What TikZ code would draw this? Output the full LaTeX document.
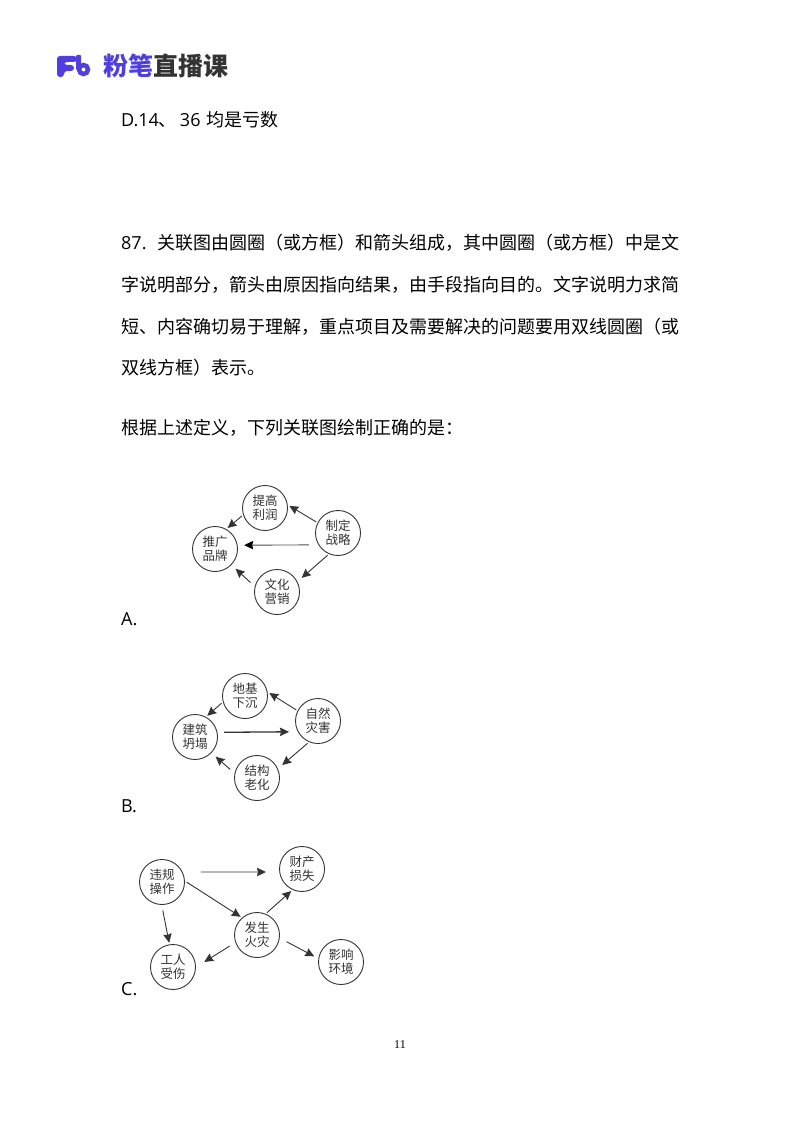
\documentclass[tikz,border=0pt]{standalone}
\usepackage{fontspec}
\setmainfont{Open Sans}
\newfontfamily\cjk{Noto Sans CJK SC}
\usetikzlibrary{arrows.meta}
\definecolor{fbblue}{HTML}{4F3FE0}
\definecolor{fbdark}{HTML}{333333}
\definecolor{linegray}{HTML}{333333}
\def\BodySize{\fontsize{18}{22}\selectfont}
\def\LeftX{121}
\tikzset{
  bubble/.style={draw=linegray, line width=0.9pt, circle, minimum size=45pt, inner sep=0pt, outer sep=2pt,
    align=center, text=fbdark, font=\fontsize{12.5}{14}\selectfont\cjk},
  body/.style={anchor=base west, inner sep=0pt, text=black, font=\BodySize},
  link/.style={->, draw=linegray, line width=0.9pt},
}
\begin{document}
\begin{tikzpicture}[x=1pt,y=-1pt,>={Stealth[length=9pt,width=8.5pt,inset=1pt]}]
  \useasboundingbox (0,0) rectangle (800,1132);
  % logo
  \fill [fbblue, rounded corners=3pt] (57,77) -- (57,56) -- (77,56) -- (77,62) -- (64,62) -- (64,65) -- (74,65) -- (74,71) -- (64,71) -- (64,77) -- cycle;
  \fill [fbblue, rounded corners=1pt] (76,55) rectangle (81,70);
  \draw [fbblue, line width=4.5pt] (83.5,69.5) circle (4.5);
  \node (brand) [anchor=base west, inner sep=0pt, text=fbblue, font=\fontsize{25}{25}\selectfont\cjk\bfseries] at (103,76) {粉笔};
  \node (brand2) [anchor=base west, inner sep=0pt, text=fbdark, font=\fontsize{25}{25}\selectfont\cjk\bfseries] at (brand.base east) {直播课};
  % text
  \node (optd) [body] at (\LeftX,126) {D.14{\cjk 、}\hspace{3pt}36\hspace{1pt} {\cjk 均是亏数}};
  \node (line1) [body] at (\LeftX,249) {87.\hspace{5pt} {\cjk 关联图由圆圈（或方框）和箭头组成，其中圆圈（或方框）中是文}};
  \node (line2) [body] at (\LeftX,291) {\cjk 字说明部分，箭头由原因指向结果，由手段指向目的。文字说明力求简};
  \node (line3) [body] at (\LeftX,333) {\cjk 短、内容确切易于理解，重点项目及需要解决的问题要用双线圆圈（或};
  \node (line4) [body] at (\LeftX,374) {\cjk 双线方框）表示。};
  \node (line5) [body] at (\LeftX,434) {\cjk 根据上述定义，下列关联图绘制正确的是：};
  \node (labA) [body] at (\LeftX,625) {A.};
  \node (labB) [body] at (\LeftX,812) {B.};
  \node (labC) [body] at (\LeftX,995) {C.};
  \node (page) [inner sep=0pt, text=black, font=\fontsize{12}{12}\selectfont\rmfamily] at (400,1045) {\fontspec{Liberation Serif}11};
  % diagram A
  \node (profit) [bubble] at (265,508) {提高\\利润};
  \node (brandup) [bubble] at (215,549) {推广\\品牌};
  \node (plan) [bubble] at (338,533) {制定\\战略};
  \node (culture) [bubble] at (277,592) {文化\\营销};
  \draw [link] (plan.153) -- (profit.5);
  \draw [link] (profit.199) -- (brandup.59);
  \draw [link, draw=black!70, -{Stealth[length=9pt,width=8.5pt,inset=1pt,black]}, shorten <=7.6pt, shorten >=5pt] (plan.209.3) -- (brandup.9.4);
  \draw [link, shorten >=4pt] (plan.245) -- (culture.28);
  \draw [link, shorten <=4pt, shorten >=4pt] (culture.164) -- (brandup.-44);
  % diagram B
  \node (sink) [bubble] at (245,696) {地基\\下沉};
  \node (collapse) [bubble] at (195,737) {建筑\\坍塌};
  \node (disaster) [bubble] at (318,721) {自然\\灾害};
  \node (aging) [bubble] at (257,778) {结构\\老化};
  \draw [link] (disaster.153) -- (sink.7);
  \draw [link] (sink.197) -- (collapse.60);
  \draw [link, line width=1.3pt, shorten <=5pt, shorten >=7pt] (collapse.11.8) -- (disaster.206.7);
  \draw [link, shorten >=4pt] (disaster.245) -- (aging.25);
  \draw [link, shorten <=4pt, shorten >=4pt] (aging.166) -- (collapse.-44);
  % diagram C
  \node (breach) [bubble] at (162,882) {违规\\操作};
  \node (loss) [bubble] at (302,869) {财产\\损失};
  \node (fire) [bubble] at (257,935) {发生\\火灾};
  \node (injury) [bubble] at (173,967) {工人\\受伤};
  \node (effect) [bubble] at (341,962) {影响\\环境};
  \draw [link, shorten <=16.6pt, shorten >=11.7pt] (breach.24.1) -- (loss.187);
  \draw [link] (breach.0) -- (fire.132);
  \draw [link, shorten <=4pt] (breach.270) -- (injury.99);
  \draw [link] (fire.66) -- (loss.244);
  \draw [link, shorten <=5pt, shorten >=8pt] (fire.200) -- (injury.2);
  \draw [link, shorten <=6pt, shorten >=3pt] (fire.-9) -- (effect.170);
\end{tikzpicture}
\end{document}
